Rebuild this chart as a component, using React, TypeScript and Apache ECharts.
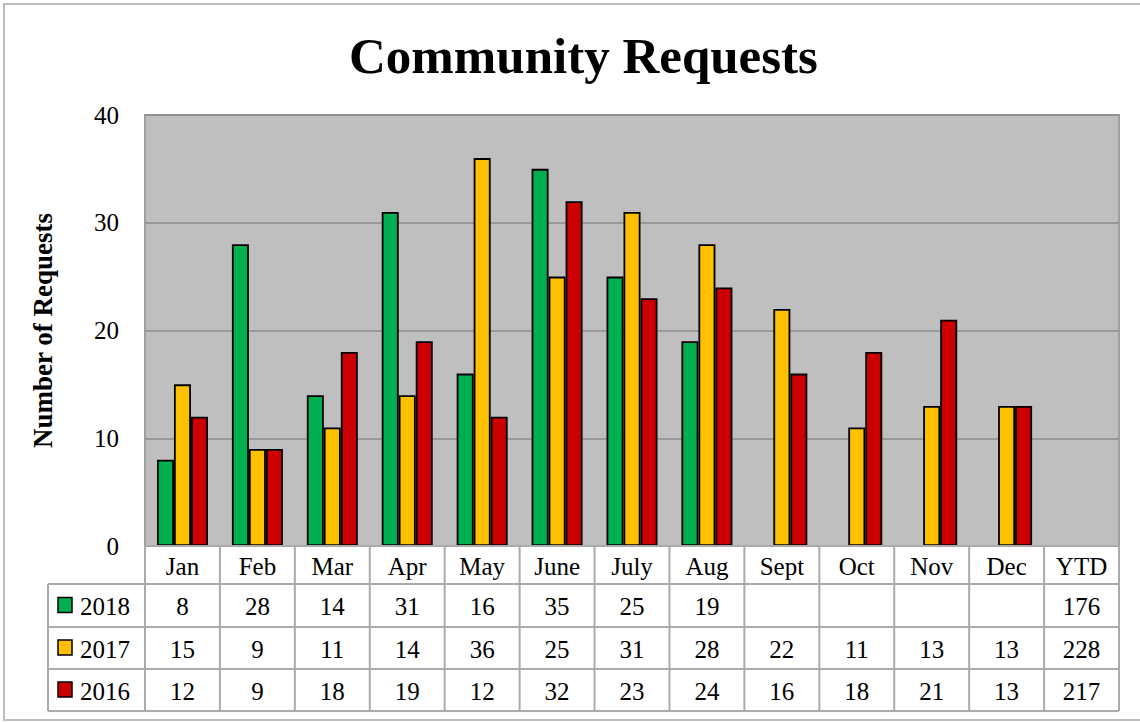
import React, { useEffect, useRef } from "react";
import * as echarts from "echarts";

const categories = ["Jan", "Feb", "Mar", "Apr", "May", "June", "July", "Aug", "Sept", "Oct", "Nov", "Dec", "YTD"];
const seriesNames = ["2018", "2017", "2016"];
const colors = ["#00B050", "#FFC000", "#CC0000"];
const values2018: (number | null)[] = [8, 28, 14, 31, 16, 35, 25, 19, null, null, null, null];
const values2017: (number | null)[] = [15, 9, 11, 14, 36, 25, 31, 28, 22, 11, 13, 13];
const values2016: (number | null)[] = [12, 9, 18, 19, 12, 32, 23, 24, 16, 18, 21, 13];
const ytd = [176, 228, 217];
const yTicks = { min: 0, max: 40, interval: 10 };

const W = 1140;
const H = 722;
const GL = 145;
const GR = 1119;
const GT = 115;
const GB = 546;
const ROW_BOTTOMS = [584, 627, 669, 711];
const LEG_X = 48;
const FONT = "Liberation Serif";
const LINE = "#ABABAB";

export default function App() {
  const ref = useRef<HTMLDivElement>(null);
  useEffect(() => {
    document.body.style.margin = "0";
    const chart = echarts.init(ref.current!, undefined, { renderer: "svg" });
    const allSeries = [values2018, values2017, values2016];
    const cw = (GR - GL) / categories.length;

    const txt = (text: string, x: number, y: number, align: string) => ({
      type: "text",
      x,
      y,
      style: { text, fontFamily: FONT, fontSize: 25, fill: "#000", verticalAlign: "middle", align },
      z: 11,
    });

    const graphics: any[] = [];
    graphics.push({
      type: "rect",
      shape: { x: 4, y: 4, width: W, height: H - 6 },
      style: { fill: "none", stroke: "#BDBDBD", lineWidth: 2 },
      z: 0,
    });
    graphics.push({ type: "line", shape: { x1: GL, y1: GB, x2: GR, y2: GB }, style: { stroke: LINE, lineWidth: 2 }, z: 10 });
    ROW_BOTTOMS.forEach((y) => {
      graphics.push({
        type: "line",
        shape: { x1: LEG_X, y1: y, x2: GR, y2: y },
        style: { stroke: LINE, lineWidth: 2 },
        z: 10,
      });
    });
    for (let i = 0; i <= categories.length; i++) {
      const x = GL + i * cw;
      graphics.push({
        type: "line",
        shape: { x1: x, y1: GB, x2: x, y2: ROW_BOTTOMS[3] },
        style: { stroke: LINE, lineWidth: 2 },
        z: 10,
      });
    }
    graphics.push({
      type: "line",
      shape: { x1: LEG_X, y1: ROW_BOTTOMS[0], x2: LEG_X, y2: ROW_BOTTOMS[3] },
      style: { stroke: LINE, lineWidth: 2 },
      z: 10,
    });
    for (let r = 0; r < 3; r++) {
      const yc = (ROW_BOTTOMS[r] + ROW_BOTTOMS[r + 1]) / 2;
      graphics.push({
        type: "rect",
        shape: { x: 58, y: yc - 8, width: 14, height: 15 },
        style: { fill: colors[r], stroke: "#000", lineWidth: 1.5 },
        z: 11,
      });
      graphics.push(txt(seriesNames[r], 80, yc + 1, "left"));
      const vals = allSeries[r];
      for (let c = 0; c < categories.length; c++) {
        const v = c < 12 ? vals[c] : ytd[r];
        if (v == null) continue;
        graphics.push(txt(String(v), GL + (c + 0.5) * cw, yc + 1, "center"));
      }
    }

    const option: any = {
      animation: false,
      backgroundColor: "#FFFFFF",
      textStyle: { fontFamily: FONT },
      title: {
        text: "Community Requests",
        left: 344,
        top: 25,
        textStyle: { fontFamily: FONT, fontWeight: "bold", fontSize: 51, color: "#000" },
      },
      grid: {
        left: GL,
        right: W - GR,
        top: GT,
        bottom: H - GB,
        show: true,
        backgroundColor: "#BFBFBF",
        borderColor: "#A0A0A0",
        borderWidth: 2,
      },
      xAxis: {
        type: "category",
        data: categories,
        axisLine: { show: false },
        axisTick: { show: false },
        axisLabel: { fontSize: 25, color: "#000", margin: 8, fontFamily: FONT, interval: 0 },
      },
      yAxis: {
        type: "value",
        min: yTicks.min,
        max: yTicks.max,
        interval: yTicks.interval,
        name: "Number of Requests",
        nameLocation: "middle",
        nameRotate: 90,
        nameGap: 89,
        nameTextStyle: { fontSize: 27, fontWeight: "bold", color: "#000", fontFamily: FONT },
        axisLine: { show: false },
        axisTick: { show: false },
        axisLabel: { fontSize: 25, color: "#000", margin: 26, fontFamily: FONT },
        splitLine: { lineStyle: { color: "#8C8C8C", width: 1.5 } },
      },
      series: allSeries.map((vals, i) => ({
        name: seriesNames[i],
        type: "bar",
        data: [...vals, null],
        barWidth: 17,
        barGap: "0%",
        itemStyle: { color: colors[i], borderColor: "#000", borderWidth: 1.8 },
      })),
      graphic: graphics,
    };
    chart.setOption(option);
    return () => chart.dispose();
  }, []);
  return <div ref={ref} style={{ position: "absolute", left: 0, top: 0, width: W, height: H }} />;
}
